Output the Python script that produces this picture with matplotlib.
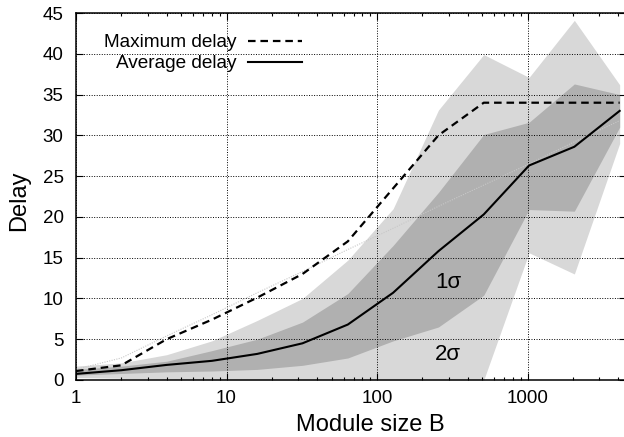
"""
plot.py

Delay vs module size B (log x), mean / max delay with 1-sigma and 2-sigma bands.
"""
import matplotlib
matplotlib.use("Agg")
import matplotlib.pyplot as plt
from matplotlib.ticker import FixedLocator, LogLocator, NullFormatter

plt.rcParams["font.family"] = ["Liberation Sans", "DejaVu Sans"]

# ---------- data ----------
MODULE_SIZE = [1, 2, 4, 8, 16, 32, 64, 128, 256, 512, 1024, 2048, 4096]

AVG_DELAY = [0.75, 1.2, 1.85, 2.35, 3.2, 4.5, 6.8, 10.7, 15.8, 20.3, 26.3, 28.6, 33.0]
MAX_DELAY = [1.1, 1.8, 5.0, 7.4, 10.1, 13.0, 17.0, 23.5, 30.0, 34.0, 34.0, 34.0, 34.0]

SIG1_LO = [0.6, 0.8, 1.0, 1.1, 1.3, 1.8, 2.7, 4.8, 6.5, 10.4, 20.9, 20.7, 31.0]
SIG1_HI = [1.3, 1.7, 2.3, 3.6, 5.0, 7.1, 10.6, 16.5, 23.0, 30.1, 31.6, 36.3, 35.0]
SIG2_LO = [0.3, 0.2, 0.1, 0.0, 0.0, 0.0, 0.0, 0.0, 0.0, 0.0, 15.6, 13.0, 29.0]
SIG2_HI = [1.7, 2.1, 3.1, 4.8, 7.3, 10.0, 14.7, 21.0, 33.1, 39.9, 37.1, 44.1, 36.2]

# thin reference line (log-linear trend)
TREND = [1.3, 2.7, 5.4, 8.0, 10.7, 13.3, 16.0, 18.6, 21.3, 23.9, 26.5, 29.2, 31.8]

X_TICKS = [1, 10, 100, 1000]
X_TICK_LABELS = ["1", "10", "100", "1000"]
Y_TICKS = list(range(0, 46, 5))

LIGHT = "#d8d8d8"
DARK = "#b0b0b0"

W, H = 624, 437


def px(x, y):
    """pixel (from top-left) -> figure fraction"""
    return x / W, 1 - y / H


def main() -> None:
    fig = plt.figure(figsize=(W / 100, H / 100), dpi=100)
    # plot area: left 76px, right ~626px (cut by the image), top 13px, bottom 380px
    ax = fig.add_axes([76 / W, (H - 380) / H, (626 - 76) / W, (380 - 13) / H])

    ax.fill_between(MODULE_SIZE, SIG2_LO, SIG2_HI, color=LIGHT, lw=0, zorder=1)
    ax.fill_between(MODULE_SIZE, SIG1_LO, SIG1_HI, color=DARK, lw=0, zorder=1.1)

    ax.plot(MODULE_SIZE, TREND, color="#c8c8c8", lw=0.8, ls=(0, (1, 1.2)), zorder=2)
    ax.plot(MODULE_SIZE, MAX_DELAY, color="black", lw=1.6, dashes=(3.4, 2.2),
            label="Maximum delay", zorder=3)
    ax.plot(MODULE_SIZE, AVG_DELAY, color="black", lw=1.5,
            label="Average delay", zorder=3)

    ax.set_xscale("log")
    ax.set_xlim(1, 10 ** ((626 - 76) / 150.5))
    ax.set_ylim(0, 45)

    ax.xaxis.set_major_locator(FixedLocator(X_TICKS))
    ax.set_xticklabels(X_TICK_LABELS)
    ax.xaxis.set_minor_locator(LogLocator(base=10, subs=range(2, 10)))
    ax.xaxis.set_minor_formatter(NullFormatter())
    ax.set_yticks(Y_TICKS)

    ax.tick_params(which="both", direction="in", top=True, right=True,
                   width=0.8, labelsize=13.5, colors="black")
    ax.tick_params(which="major", length=5)
    ax.tick_params(which="minor", length=2.5)
    ax.tick_params(axis="x", pad=7)
    ax.tick_params(axis="y", pad=9)

    ax.set_axisbelow("line")
    ax.grid(True, which="major", color="black", lw=0.7, ls=(0, (1, 1.6)))
    for s in ax.spines.values():
        s.set_linewidth(1.1)

    ax.text(300, 11.9, "1σ", fontsize=16, ha="center", va="center", zorder=4)
    ax.text(298, 3.1, "2σ", fontsize=16, ha="center", va="center", zorder=4)

    ax.legend(loc="upper right", bbox_to_anchor=px(302, 34),
              bbox_transform=fig.transFigure, frameon=False, markerfirst=False,
              fontsize=13.7, handlelength=2.85, handletextpad=0.58,
              labelspacing=0.2, borderpad=0, borderaxespad=0)

    fig.text(*px(370, 425), "Module size B", fontsize=17, ha="center", va="center")
    fig.text(*px(19, 201), "Delay", fontsize=17, rotation=90, ha="center", va="center")

    fig.savefig("out.png", dpi=100)
    plt.close(fig)


if __name__ == "__main__":
    main()
